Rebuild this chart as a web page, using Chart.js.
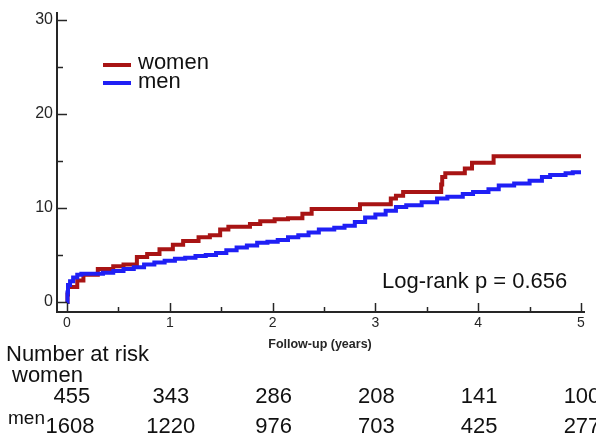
<!DOCTYPE html>
<html>
<head>
<meta charset="utf-8">
<script src="https://cdn.jsdelivr.net/npm/chart.js@4/dist/chart.umd.min.js"></script>
<style>
  body { margin: 0; background: #fff; }
  canvas { display: block; }
</style>
</head>
<body>
<canvas id="km" width="596" height="437"></canvas>
<script>
// cumulative incidence (%), [years, value] at each step
const womenSteps = [
  [0, 0], [0.005, 0.8], [0.01, 1.6], [0.1, 2.3], [0.16, 2.9], [0.3, 3.5], [0.45, 3.8],
  [0.55, 4.0], [0.68, 4.8], [0.78, 5.1], [0.9, 5.6], [1.03, 6.1], [1.13, 6.5], [1.28, 6.9],
  [1.39, 7.1], [1.49, 7.7], [1.57, 8.0], [1.78, 8.3], [1.88, 8.6], [2.02, 8.8], [2.15, 8.9],
  [2.29, 9.4], [2.38, 9.9], [2.85, 10.4], [3.15, 11.0], [3.2, 11.3], [3.27, 11.7],
  [3.64, 12.5], [3.65, 13.3], [3.68, 13.7], [3.87, 14.2], [3.94, 14.8], [4.15, 15.5], [5.0, 15.5]
]
const menSteps = [
  [0, 0], [0.005, 1.0], [0.01, 1.8], [0.03, 2.2], [0.06, 2.6], [0.1, 2.9], [0.14, 3.0],
  [0.35, 3.1], [0.45, 3.3], [0.55, 3.5], [0.65, 3.7], [0.75, 4.0], [0.85, 4.2], [0.95, 4.4],
  [1.05, 4.6], [1.15, 4.7], [1.25, 4.9], [1.35, 5.0], [1.45, 5.2], [1.55, 5.5], [1.65, 5.8],
  [1.75, 6.0], [1.85, 6.3], [1.95, 6.4], [2.05, 6.6], [2.15, 6.9], [2.25, 7.1], [2.35, 7.4],
  [2.45, 7.7], [2.6, 7.9], [2.7, 8.1], [2.8, 8.5], [2.9, 9.0], [3.0, 9.3], [3.1, 9.7],
  [3.2, 10.1], [3.3, 10.3], [3.45, 10.6], [3.6, 11.0], [3.7, 11.2], [3.85, 11.5], [3.95, 11.7],
  [4.1, 12.0], [4.2, 12.4], [4.35, 12.6], [4.5, 12.9], [4.62, 13.3], [4.7, 13.5], [4.85, 13.7],
  [4.92, 13.8], [5.0, 13.8]
]
const xTicks = [0, 1, 2, 3, 4, 5]
const yTicks = [0, 10, 20, 30]
const riskYears = [0, 1, 2, 3, 4, 5]
const womenAtRisk = [455, 343, 286, 208, 141, 100]
const menAtRisk = [1608, 1220, 976, 703, 425, 277]

const RED = '#a81414'
const BLUE = '#1f1ff5'
const INK = '#262626'
const FONT = '"Liberation Sans", Arial, sans-serif'

function toPoints(steps) {
  return steps.map(s => ({ x: s[0], y: s[1] }))
}

const decor = {
  id: 'decor',
  afterDraw(chart) {
    const ctx = chart.ctx
    const xs = chart.scales.x, ys = chart.scales.y
    const a = chart.chartArea
    ctx.save()
    ctx.strokeStyle = INK
    ctx.fillStyle = INK
    ctx.lineWidth = 2
    // axis lines
    ctx.beginPath()
    ctx.moveTo(a.left, a.top)
    ctx.lineTo(a.left, a.bottom)
    ctx.lineTo(a.right, a.bottom)
    ctx.stroke()
    ctx.lineWidth = 1.5
    // y ticks (inside), majors + minors
    for (let v = 0; v <= 30; v += 5) {
      const py = Math.round(ys.getPixelForValue(v)) + 0.5
      ctx.beginPath()
      ctx.moveTo(a.left, py)
      ctx.lineTo(a.left + (v % 10 === 0 ? 10 : 6), py)
      ctx.stroke()
    }
    // x ticks (pointing up)
    for (let t = 0; t <= 5; t += 0.5) {
      const px = Math.round(xs.getPixelForValue(t)) + 0.5
      ctx.beginPath()
      ctx.moveTo(px, a.bottom)
      ctx.lineTo(px, a.bottom - (t % 1 === 0 ? 9 : 5))
      ctx.stroke()
    }
    // tick labels
    ctx.font = '16px ' + FONT
    ctx.textAlign = 'right'
    ctx.textBaseline = 'middle'
    yTicks.forEach(v => ctx.fillText(String(v), a.left - 4, ys.getPixelForValue(v)))
    ctx.font = '14px ' + FONT
    ctx.textAlign = 'center'
    ctx.textBaseline = 'top'
    xTicks.forEach(t => ctx.fillText(String(t), xs.getPixelForValue(t), a.bottom + 4))
    ctx.font = 'bold 12.5px ' + FONT
    ctx.fillText('Follow-up (years)', 320, a.bottom + 26)

    // legend
    ctx.lineWidth = 4
    ctx.strokeStyle = RED
    ctx.beginPath(); ctx.moveTo(103, 65); ctx.lineTo(131, 65); ctx.stroke()
    ctx.strokeStyle = BLUE
    ctx.beginPath(); ctx.moveTo(103, 83); ctx.lineTo(131, 83); ctx.stroke()
    ctx.fillStyle = '#111'
    ctx.font = '22px ' + FONT
    ctx.textAlign = 'left'
    ctx.textBaseline = 'alphabetic'
    ctx.fillText('women', 138, 69)
    ctx.fillText('men', 138, 88)
    ctx.fillText('Log-rank p = 0.656', 382, 288)

    // number at risk table
    ctx.fillText('Number at risk', 6, 361)
    ctx.fillText('women', 12, 382)
    ctx.font = '19px ' + FONT
    ctx.fillText('men', 8, 424)
    ctx.font = '22px ' + FONT
    ctx.textAlign = 'center'
    riskYears.forEach((t, i) => {
      const px = xs.getPixelForValue(t)
      ctx.fillText(String(womenAtRisk[i]), px + (i === 0 ? 5 : 1), 403)
      ctx.fillText(String(menAtRisk[i]), px + (i === 0 ? 3 : 1), 433)
    })
    ctx.restore()
  }
}

new Chart(document.getElementById('km').getContext('2d'), {
  type: 'line',
  data: {
    datasets: [
      { label: 'men', data: toPoints(menSteps), borderColor: BLUE, borderWidth: 4, stepped: 'before', pointRadius: 0, fill: false },
      { label: 'women', data: toPoints(womenSteps), borderColor: RED, borderWidth: 4, stepped: 'before', pointRadius: 0, fill: false }
    ]
  },
  options: {
    responsive: false,
    animation: false,
    events: [],
    layout: { padding: { left: 57, right: 11, top: 12, bottom: 125 } },
    plugins: { legend: { display: false }, tooltip: { enabled: false } },
    scales: {
      x: { type: 'linear', display: false, min: -0.097, max: 5.039 },
      y: { type: 'linear', display: false, min: -1.064, max: 30.85 }
    }
  },
  plugins: [decor]
})
</script>
</body>
</html>
